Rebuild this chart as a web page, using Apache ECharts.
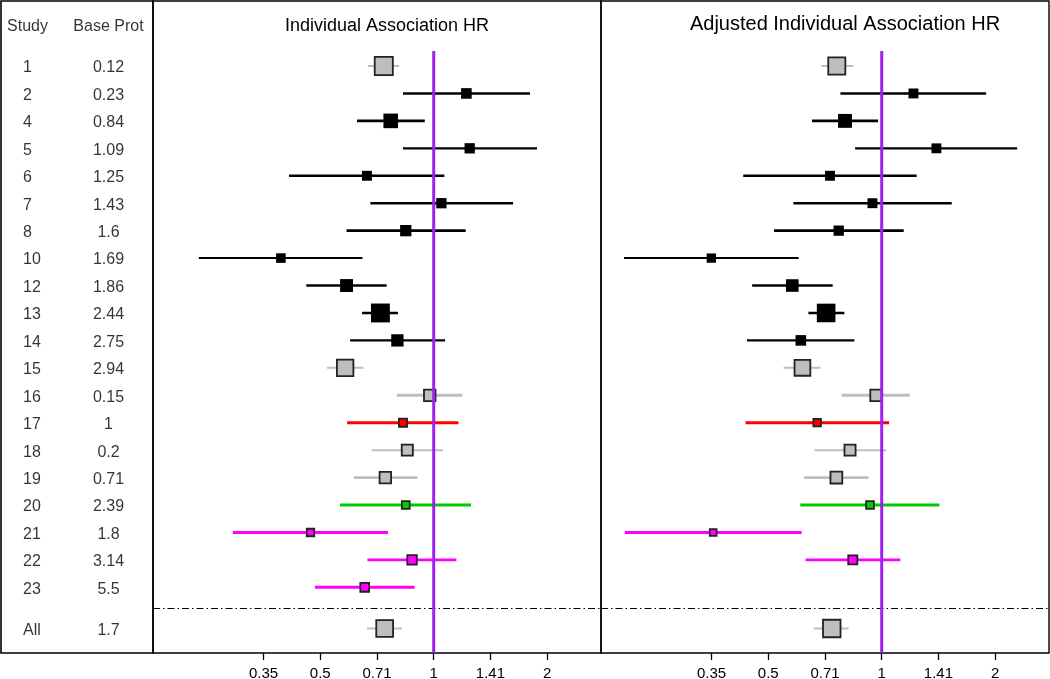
<!DOCTYPE html>
<html>
<head>
<meta charset="utf-8">
<script src="https://cdn.jsdelivr.net/npm/echarts@6/dist/echarts.min.js"></script>
<style>html,body{margin:0;padding:0;background:#fff}#c{width:1050px;height:679px}</style>
</head>
<body>
<div id="c"></div>
<script>
// ---------------- DATA ----------------
const studies  = ['1','2','4','5','6','7','8','10','12','13','14','15','16','17','18','19','20','21','22','23','All'];
const baseProt = ['0.12','0.23','0.84','1.09','1.25','1.43','1.6','1.69','1.86','2.44','2.75','2.94','0.15','1','0.2','0.71','2.39','1.8','3.14','5.5','1.7'];
const groups   = ['grey','black','black','black','black','black','black','black','black','black','black','grey','grey','red','grey','grey','green','magenta','magenta','magenta','grey'];

// Individual Association HR (left panel)
const hrLeft = [0.737,1.221,0.769,1.246,0.665,1.048,0.843,0.393,0.587,0.722,0.801,0.582,0.976,0.829,0.851,0.744,0.843,0.471,0.876,0.656,0.741];
const loLeft = [0.669,0.829,0.626,0.829,0.413,0.679,0.587,0.238,0.459,0.645,0.600,0.521,0.798,0.589,0.684,0.613,0.564,0.293,0.667,0.484,0.665];
const hiLeft = [0.809,1.801,0.947,1.880,1.067,1.624,1.216,0.647,0.750,0.804,1.072,0.651,1.192,1.163,1.058,0.905,1.256,0.756,1.149,0.890,0.824];

// Adjusted Individual Association HR (right panel)
const hrRight = [0.760,1.214,0.799,1.397,0.729,0.945,0.769,0.353,0.579,0.712,0.610,0.616,0.966,0.674,0.824,0.758,0.931,0.357,0.838,null,0.737];
const loRight = [0.691,0.777,0.653,0.850,0.429,0.583,0.518,0.207,0.453,0.639,0.439,0.549,0.783,0.435,0.663,0.622,0.608,0.208,0.628,null,0.660];
const hiRight = [0.841,1.893,0.978,2.288,1.238,1.534,1.144,0.602,0.741,0.796,0.846,0.688,1.187,1.046,1.027,0.923,1.423,0.613,1.121,null,0.817];

const tickValuesHR = [0.3536,0.5,0.7071,1,1.4142,2];
const tickLabels   = ['0.35','0.5','0.71','1','1.41','2'];
const panelTitles  = ['Individual Association HR','Adjusted Individual Association HR'];
const tableHeaders = ['Study','Base Prot'];
const refHR = 1;

// ---------------- STYLE ----------------
const FONT = '"Liberation Sans", Arial, sans-serif';
const groupStyle = {
  grey:    {line:'#BEBEBE', fill:'#BEBEBE', stroke:'#222'},
  black:   {line:'#000000', fill:'#000000', stroke:null},
  red:     {line:'#FF0000', fill:'#FF0000', stroke:'#222'},
  green:   {line:'#00CD00', fill:'#00CD00', stroke:'#222'},
  magenta: {line:'#FF00FF', fill:'#FF00FF', stroke:'#222'}
};
const boxLeft  = [19.3,10,14,9.7,9.3,9.7,10.7,9,12.3,18.3,11.7,17.7,12.7,9.3,12.3,12.7,9,8.7,10.7,10,18];
const boxRight = [18.3,9.3,13.3,9.3,9.3,9.3,9.7,8.7,12,18,10,17,12.7,8.7,12.3,13,9,8,10.3,0,18.7];
const lineW    = [2,2.6,2.6,2.2,2.6,2.6,2.6,2,2.6,2.6,2.2,2,3,3,2,2.6,3,3,2.6,3,2];

const Y_MIN = -2.369, Y_MAX = 21.392;
const X_MIN = -2.475, X_MAX = 1.475;
const rowY = studies.map((s,i) => i < studies.length - 1 ? i : i + 0.5);
const sepY = studies.length - 1.25;
const refTop = -0.55;
const tickPos = tickValuesHR.map(Math.log2);

function buildData(hr, lo, hi) {
  const out = [];
  hr.forEach((v,i) => {
    if (v == null) return;
    out.push([Math.log2(lo[i]), Math.log2(hi[i]), Math.log2(v), rowY[i], i]);
  });
  return out;
}

function makeRender(boxes) {
  return function(params, api) {
    const y = api.value(3);
    const a = api.coord([api.value(0), y]);
    const b = api.coord([api.value(1), y]);
    const c = api.coord([api.value(2), y]);
    const i = api.value(4);
    const st = groupStyle[groups[i]];
    const s = boxes[i] + 0.6;
    const inner = st.stroke ? s - 1.8 : s;
    return {type:'group', children:[
      {type:'line', shape:{x1:a[0], y1:a[1], x2:b[0], y2:b[1]},
       style:{stroke:st.line, lineWidth:lineW[i]}},
      {type:'rect', shape:{x:c[0]-inner/2, y:c[1]-inner/2, width:inner, height:inner},
       style: st.stroke ? {fill:st.fill, stroke:st.stroke, lineWidth:1.8} : {fill:st.fill}}
    ]};
  };
}

function panelXAxis(gi) {
  return {
    gridIndex: gi, type:'value', min:X_MIN, max:X_MAX, position:'bottom',
    axisLine:{show:false, onZero:false}, splitLine:{show:false},
    axisTick:{show:true, customValues:tickPos, length:7, lineStyle:{color:'#000', width:1.3}},
    axisLabel:{show:true, customValues:tickPos, margin:13, fontSize:15, color:'#000', fontFamily:FONT,
      formatter: v => { const k = tickPos.findIndex(t => Math.abs(t - v) < 1e-6); return k >= 0 ? tickLabels[k] : ''; }}
  };
}
function yAx(gi) {
  return {gridIndex:gi, type:'value', min:Y_MIN, max:Y_MAX, inverse:true, show:false};
}

const tableLabel = (align) => ({show:true, position:'inside', align:align, verticalAlign:'middle', offset:[0,2],
  formatter: p => p.name, fontSize:16, color:'#000', fontFamily:FONT});

const gridBase = {top:1, height:652, show:true, borderColor:'#000', backgroundColor:'transparent',
  containLabel:false, outerBoundsMode:'none'};

const option = {
  animation:false,
  backgroundColor:'#fff',
  title: [
    {text:panelTitles[0], left:387, top:17, padding:0, textAlign:'center',
     textStyle:{fontSize:18, fontWeight:'normal', color:'#000', fontFamily:FONT}},
    {text:panelTitles[1], left:845, top:14, padding:0, textAlign:'center',
     textStyle:{fontSize:20, fontWeight:'normal', color:'#000', fontFamily:FONT}}
  ],
  grid: [
    Object.assign({}, gridBase, {left:1, width:152, borderWidth:1.6}),
    Object.assign({}, gridBase, {left:153, width:448, borderWidth:1.4}),
    Object.assign({}, gridBase, {left:601, width:448, borderWidth:1.4})
  ],
  xAxis: [
    {gridIndex:0, type:'value', min:0, max:152, show:false},
    panelXAxis(1), panelXAxis(2)
  ],
  yAxis: [yAx(0), yAx(1), yAx(2)],
  series: [
    {type:'scatter', xAxisIndex:0, yAxisIndex:0, symbolSize:1, itemStyle:{color:'rgba(0,0,0,0)'}, silent:true,
     label:tableLabel('center'),
     data:[{name:tableHeaders[0], value:[26.5,-1.5]}, {name:tableHeaders[1], value:[107.5,-1.5]}]},
    {type:'scatter', xAxisIndex:0, yAxisIndex:0, symbolSize:1, itemStyle:{color:'rgba(0,0,0,0)'}, silent:true,
     label:tableLabel('left'),
     data: studies.map((s,i) => ({name:s, value:[22, rowY[i]]}))},
    {type:'scatter', xAxisIndex:0, yAxisIndex:0, symbolSize:1, itemStyle:{color:'rgba(0,0,0,0)'}, silent:true,
     label:tableLabel('center'),
     data: baseProt.map((s,i) => ({name:s, value:[107.5, rowY[i]]}))},
    {type:'custom', xAxisIndex:1, yAxisIndex:1, z:2, silent:true, renderItem:makeRender(boxLeft),
     data: buildData(hrLeft, loLeft, hiLeft),
     markLine:{silent:true, symbol:'none', label:{show:false}, animation:false,
       lineStyle:{color:'#000', width:1.2, type:[7,3,1.5,3]}, data:[{yAxis:sepY}]}},
    {type:'custom', xAxisIndex:2, yAxisIndex:2, z:2, silent:true, renderItem:makeRender(boxRight),
     data: buildData(hrRight, loRight, hiRight),
     markLine:{silent:true, symbol:'none', label:{show:false}, animation:false,
       lineStyle:{color:'#000', width:1.2, type:[7,3,1.5,3]}, data:[{yAxis:sepY}]}},
    {type:'line', xAxisIndex:1, yAxisIndex:1, z:5, silent:true, symbol:'none',
     lineStyle:{color:'#A020F0', width:3}, data:[[Math.log2(refHR), refTop],[Math.log2(refHR), Y_MAX]]},
    {type:'line', xAxisIndex:2, yAxisIndex:2, z:5, silent:true, symbol:'none',
     lineStyle:{color:'#A020F0', width:3}, data:[[Math.log2(refHR), refTop],[Math.log2(refHR), Y_MAX]]}
  ]
};

const chart = echarts.init(document.getElementById('c'), null, {renderer:'canvas'});
chart.setOption(option);
</script>
</body>
</html>
